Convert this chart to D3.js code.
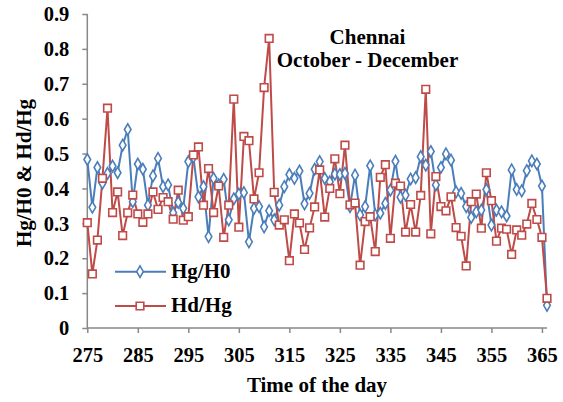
<!DOCTYPE html>
<html><head><meta charset="utf-8">
<script src="https://cdn.jsdelivr.net/npm/d3@7/dist/d3.min.js"></script>
<style>body{margin:0;background:#fff}svg{display:block}</style>
</head><body>
<svg id="c" width="563" height="402"></svg>
<script>
const startDay = 275;
const hgH0 = [0.483,0.346,0.46,0.415,0.443,0.464,0.445,0.524,0.569,0.362,
0.47,0.455,0.352,0.436,0.486,0.405,0.41,0.33,0.36,0.343,
0.477,0.49,0.376,0.405,0.262,0.429,0.41,0.426,0.31,0.37,
0.384,0.388,0.247,0.343,0.348,0.29,0.336,0.31,0.352,0.405,
0.44,0.429,0.45,0.356,0.386,0.455,0.477,0.429,0.419,0.441,
0.44,0.443,0.348,0.438,0.324,0.348,0.465,0.324,0.329,0.357,
0.395,0.478,0.375,0.381,0.427,0.431,0.491,0.467,0.506,0.41,
0.46,0.499,0.481,0.39,0.386,0.348,0.317,0.333,0.338,0.397,
0.295,0.338,0.333,0.321,0.453,0.397,0.393,0.451,0.479,0.47,
0.407,0.065];
const hdHg = [0.302,0.155,0.252,0.429,0.63,0.331,0.39,0.265,0.33,0.381,
0.327,0.303,0.327,0.39,0.34,0.374,0.362,0.312,0.395,0.309,
0.319,0.496,0.519,0.352,0.457,0.331,0.407,0.26,0.352,0.656,
0.289,0.549,0.537,0.37,0.445,0.689,0.83,0.389,0.295,0.31,
0.193,0.327,0.301,0.225,0.287,0.347,0.453,0.318,0.40,0.485,
0.385,0.524,0.353,0.358,0.18,0.305,0.319,0.219,0.432,0.468,
0.257,0.415,0.407,0.275,0.354,0.275,0.38,0.684,0.27,0.434,
0.348,0.336,0.376,0.288,0.263,0.178,0.362,0.384,0.286,0.445,
0.365,0.249,0.286,0.283,0.211,0.281,0.266,0.298,0.357,0.311,
0.26,0.085];
const xTicks = [275,285,295,305,315,325,335,345,355,365];
const yTicks = [0,0.1,0.2,0.3,0.4,0.5,0.6,0.7,0.8,0.9];
const seriesNames = ["Hg/H0","Hd/Hg"];
const titleLines = ["Chennai","October - December"];

const FONT = "'Liberation Serif', Tinos, 'Times New Roman', 'DejaVu Serif', serif";
const svg = d3.select("#c");
const x = d3.scaleLinear().domain([275,366]).range([87.3,547]);
const y = d3.scaleLinear().domain([0,0.9]).range([328,14]);
const axisCol = "#898989";

function styleText(sel, size){
  sel.attr("font-family", FONT).attr("font-weight","bold").attr("font-size", size).attr("fill","#000");
}

const ya = svg.append("g").attr("transform","translate(87.3,0)")
  .call(d3.axisLeft(y).tickValues(yTicks).tickSize(5).tickFormat(d=>d===0?"0":d3.format(".1f")(d)));
const xa = svg.append("g").attr("transform","translate(0,328)")
  .call(d3.axisBottom(x).tickValues(xTicks).tickSize(5).tickFormat(d3.format("d")));
[ya,xa].forEach(a=>{
  a.attr("font-family", FONT).attr("font-size", 20.5);
  a.selectAll("path").attr("stroke",axisCol).attr("stroke-width",1.5);
  a.selectAll("line").attr("stroke",axisCol).attr("stroke-width",1.5);
  styleText(a.selectAll("text"), 20.5);
});
ya.select(".domain").attr("d","M0,14V328");
xa.select(".domain").attr("d","M87.3,0H547");
ya.selectAll("text").attr("x",-18).attr("dy","0.33em");
xa.selectAll("text").attr("y",19).attr("dy","0.71em");

const cols = ["#4A7EBB","#BE4B48"];
const data = [hgH0, hdHg];
const line = d3.line().x((d,i)=>x(startDay+i)).y(d=>y(d));
const diamond = d3.symbol().type(d3.symbolDiamond).size(38);
const square = d3.symbol().type(d3.symbolSquare).size(58);

data.forEach((arr,k)=>{
  svg.append("path").datum(arr).attr("d",line).attr("fill","none")
    .attr("stroke",cols[k]).attr("stroke-width",2);
});
data.forEach((arr,k)=>{
  svg.append("g").selectAll("path").data(arr).join("path")
    .attr("transform",(d,i)=>`translate(${x(startDay+i)},${y(d)})`)
    .attr("d",k===0?diamond():square())
    .attr("fill","#fff").attr("stroke",cols[k]).attr("stroke-width",1.6);
});

// legend
const legY = [271.7,306];
seriesNames.forEach((n,k)=>{
  const g = svg.append("g");
  g.append("rect").attr("x",110).attr("y",legY[k]-15).attr("width",135).attr("height",30).attr("fill","#fff");
  g.append("line").attr("x1",115).attr("x2",166).attr("y1",legY[k]).attr("y2",legY[k])
    .attr("stroke",cols[k]).attr("stroke-width",2);
  g.append("path").attr("transform",`translate(140,${legY[k]})`).attr("d",k===0?diamond():square())
    .attr("fill","#fff").attr("stroke",cols[k]).attr("stroke-width",1.6);
  styleText(g.append("text").attr("x",171).attr("y",legY[k]+6).text(n), 21);
});

// title
styleText(svg.append("text").attr("x",367.5).attr("y",43.5).attr("text-anchor","middle").text(titleLines[0]), 21);
styleText(svg.append("text").attr("x",367.5).attr("y",67).attr("text-anchor","middle").text(titleLines[1]), 21);

// axis titles
styleText(svg.append("text").attr("transform","translate(30.5,173) rotate(-90)").attr("text-anchor","middle").text("Hg/H0 & Hd/Hg"), 21);
styleText(svg.append("text").attr("x",317).attr("y",392).attr("text-anchor","middle").text("Time of the day"), 21);
</script>
</body></html>
